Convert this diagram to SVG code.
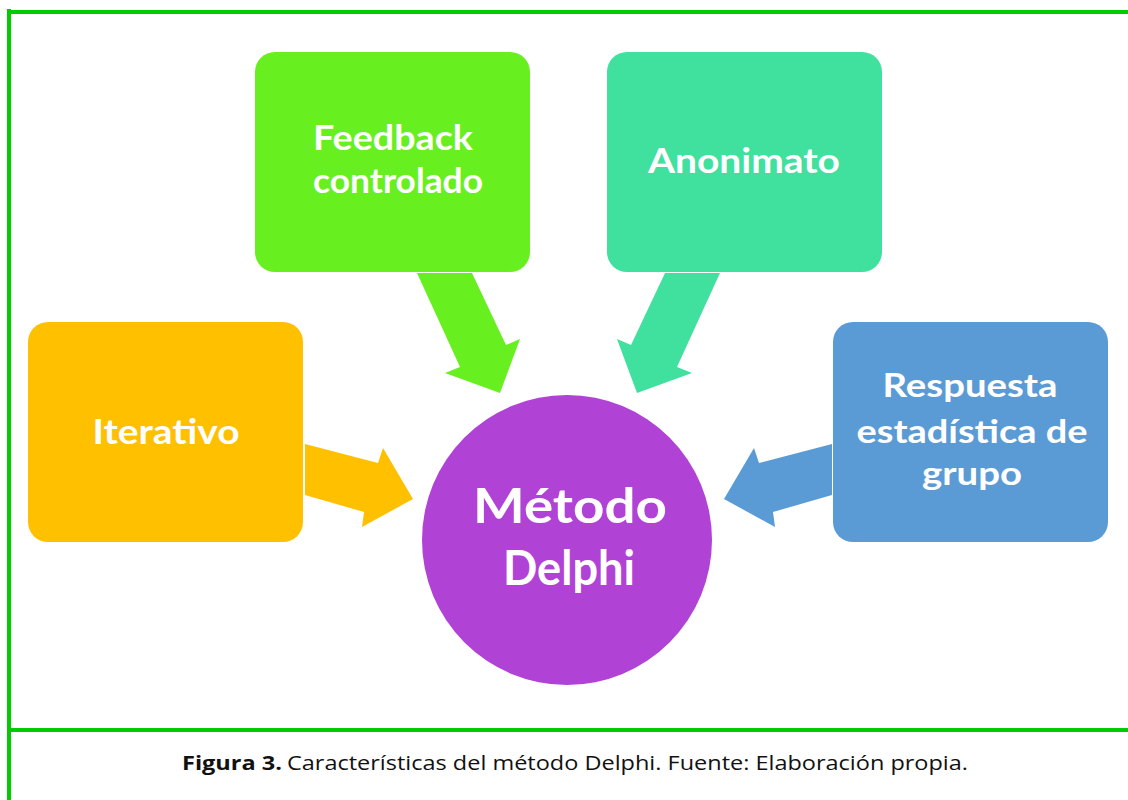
<svg xmlns="http://www.w3.org/2000/svg" width="1128" height="800" viewBox="0 0 1128 800">
<style>
.box{stroke:none}
.lbl{font-family:Lato,"Open Sans","Liberation Sans",sans-serif;font-weight:bold;fill:#ffffff;text-anchor:middle}
.cap{font-family:"Open Sans","Liberation Sans",sans-serif;font-size:20px;fill:#111111}
</style>
<rect width="1128" height="800" fill="#ffffff"/>
<g id="frame" fill="#00CC00">
<rect x="7" y="10" width="1121" height="4"/>
<rect x="7" y="9" width="4" height="791"/>
<rect x="7" y="728" width="1121" height="4"/>
</g>
<g id="connectors">
<polygon points="417,273 472,273 506,345 520,339 500,393 445,373 460,367" fill="#68EF20"/>
<polygon points="665,273 720,273 677,367 692,373 637,393 617,339 631,345" fill="#40E09E"/>
<polygon points="305,444 378,463 383,448 413,499 362,527 364,512 305,495" fill="#FFC000"/>
<polygon points="832,444 759,463 754,448 724,499 775,527 773,512 832,495" fill="#5B9BD5"/>
</g>
<g id="feedback">
<rect class="box" x="255" y="52" width="275" height="220" rx="20" fill="#68EF20"/>
<text class="lbl" x="393" y="150" font-size="34" textLength="160" lengthAdjust="spacingAndGlyphs">Feedback</text>
<text class="lbl" x="398" y="193" font-size="34" textLength="170" lengthAdjust="spacingAndGlyphs">controlado</text>
</g>
<g id="anonimato">
<rect class="box" x="607" y="52" width="275" height="220" rx="20" fill="#40E09E"/>
<text class="lbl" x="744" y="173" font-size="34" textLength="192" lengthAdjust="spacingAndGlyphs">Anonimato</text>
</g>
<g id="iterativo">
<rect class="box" x="28" y="322" width="275" height="220" rx="20" fill="#FFC000"/>
<text class="lbl" x="166" y="444" font-size="34" textLength="147" lengthAdjust="spacingAndGlyphs">Iterativo</text>
</g>
<g id="respuesta">
<rect class="box" x="833" y="322" width="275" height="220" rx="20" fill="#5B9BD5"/>
<text class="lbl" x="970" y="397" font-size="33" textLength="175" lengthAdjust="spacingAndGlyphs">Respuesta</text>
<text class="lbl" x="972" y="443" font-size="33" textLength="231" lengthAdjust="spacingAndGlyphs">estadística de</text>
<text class="lbl" x="972" y="485" font-size="33" textLength="100" lengthAdjust="spacingAndGlyphs">grupo</text>
</g>
<g id="metodo">
<circle cx="567" cy="540" r="145" fill="#B042D6"/>
<text class="lbl" x="570" y="523" font-size="48" textLength="194" lengthAdjust="spacingAndGlyphs">Método</text>
<text class="lbl" x="569" y="585" font-size="48" textLength="132" lengthAdjust="spacingAndGlyphs">Delphi</text>
</g>
<g id="caption">
<text class="cap" x="182" y="770" font-weight="bold" textLength="100" lengthAdjust="spacingAndGlyphs">Figura 3.</text>
<text class="cap" x="287" y="770" textLength="681" lengthAdjust="spacingAndGlyphs">Características del método Delphi. Fuente: Elaboración propia.</text>
</g>
</svg>
